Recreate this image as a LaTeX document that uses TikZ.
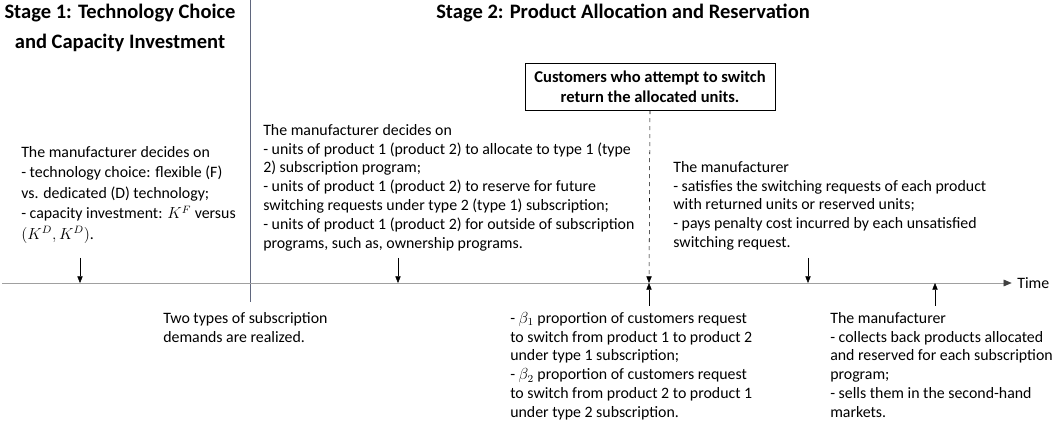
\documentclass[tikz,border=0pt]{standalone}
\usepackage{fontspec}
\setmainfont{Carlito}
\usetikzlibrary{arrows.meta}

\definecolor{axisgray}{RGB}{160,160,160}
\definecolor{stageline}{RGB}{95,102,125}

\tikzset{
  body/.style={anchor=north west, inner sep=0pt, align=left, font=\fontsize{11.9}{14.1}\selectfont},
  loose/.style={font=\fontsize{11.9}{15.4}\selectfont},
  title/.style={inner sep=0pt, align=center, font=\fontsize{15.4}{22.5}\selectfont\bfseries},
  event/.style={thin, -{Triangle[length=5pt,width=4pt]}},
}

\begin{document}
\begin{tikzpicture}[x=0.75pt,y=-0.75pt]
\useasboundingbox (0,0) rectangle (1063,427);

% Stage titles
\node[title] (stage1) at (120,28) {Stage 1: Technology Choice\\and Capacity Investment};
\node[title] (stage2) at (623,13) {Stage 2: Product Allocation and Reservation};

% Line between the stages
\coordinate (sep top) at (250,0);
\coordinate (sep end) at (250,302);
\draw[stageline, thin] (sep top) -- (sep end);

% Time axis
\node[anchor=west, inner sep=0pt, font=\fontsize{11.9}{14}\selectfont] (time) at (1017,283) {Time};
\coordinate (t0) at (2,283);
\draw[axisgray, -{Triangle[length=6pt,width=5pt,color=black!75]}] (t0) -- ([xshift=-4pt]time.west);

% Points on the axis
\coordinate (e1) at (80,283);
\coordinate (e2) at (398,283);
\coordinate (e3) at (649,283);
\coordinate (e4) at (808,283);
\coordinate (e5) at (935,283);

% Stage 1 decision
\node[body, loose] (s1text) at (21,146) {The manufacturer decides on\\
- technology choice: flexible (F)\\
vs. dedicated (D) technology;\\
- capacity investment: $K^F$ versus\\
$(K^D,K^D)$.};
\coordinate (e1top) at (80,258);
\draw[event] (e1top) -- (e1);

% Demands realized
\node[body] (demand) at (163,312) {Two types of subscription\\demands are realized.};

% Stage 2 allocation
\node[body] (alloc) at (263,124) {The manufacturer decides on\\
- units of product 1 (product 2) to allocate to type 1 (type\\
2) subscription program;\\
- units of product 1 (product 2) to reserve for future\\
switching requests under type 2 (type 1) subscription;\\
- units of product 1 (product 2) for outside of subscription\\
programs, such as, ownership programs.};
\coordinate (e2top) at (398,258);
\draw[event] (e2top) -- (e2);

% Switching customers
\node[draw, thin, inner sep=0pt, minimum width=187.5pt, minimum height=35pt, align=center,
  font=\fontsize{12.4}{15}\selectfont\bfseries] (switch) at (650,86.5)
  {Customers who attempt to switch\\return the allocated units.};
\draw[event, dashed] (switch.south) -- (e3);

\node[body] (requests) at (510,312) {- $\beta_1$ proportion of customers request\\
to switch from product 1 to product 2\\
under type 1 subscription;\\
- $\beta_2$ proportion of customers request\\
to switch from product 2 to product 1\\
under type 2 subscription.};
\coordinate (e3bot) at (649,306);
\draw[event] (e3bot) -- (e3);

% Switching satisfied
\node[body] (satisfy) at (673,161) {The manufacturer\\
- satisfies the switching requests of each product\\
with returned units or reserved units;\\
- pays penalty cost incurred by each unsatisfied\\
switching request.};
\coordinate (e4top) at (808,258);
\draw[event] (e4top) -- (e4);

% End of horizon
\node[body] (collect) at (830,312) {The manufacturer\\
- collects back products allocated\\
and reserved for each subscription\\
program;\\
- sells them in the second-hand\\
markets.};
\coordinate (e5bot) at (935,306);
\draw[event] (e5bot) -- (e5);
\end{tikzpicture}
\end{document}
